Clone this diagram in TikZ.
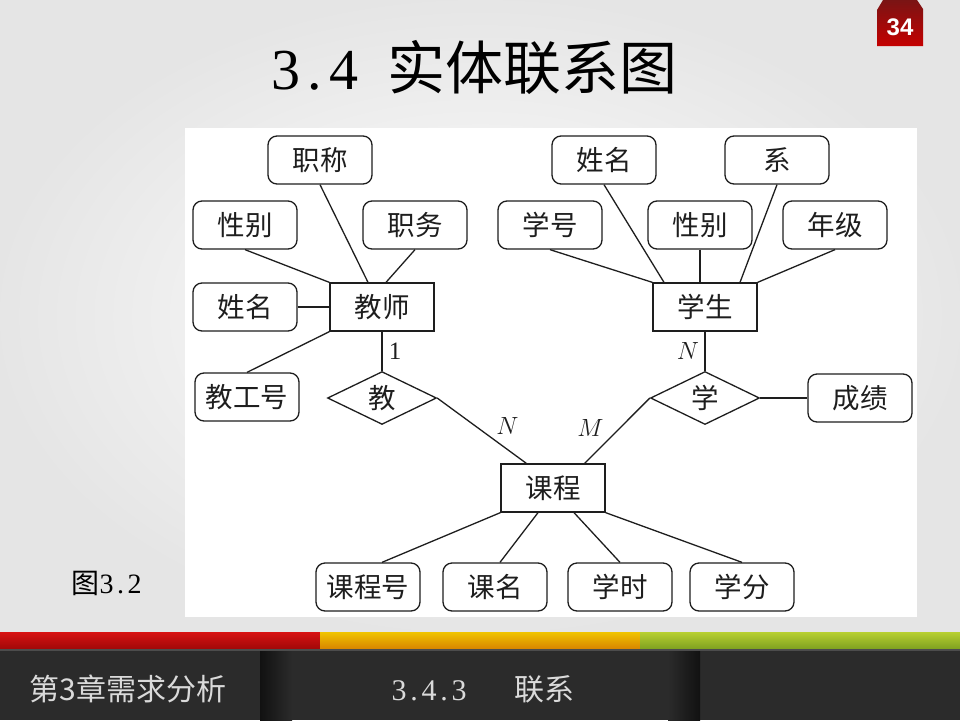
\documentclass[tikz,border=0pt]{standalone}
\usepackage{fontspec}
\setmainfont{Liberation Serif}
\newfontfamily\cjk{Noto Sans CJK SC}
\newfontfamily\sans{Liberation Sans}
\usetikzlibrary{shapes.geometric}

\definecolor{badgetop}{HTML}{7A1414}
\definecolor{badgebot}{HTML}{C40000}
\definecolor{barbg}{HTML}{2B2B2B}
\definecolor{footfg}{HTML}{DADADA}
\definecolor{inkcol}{HTML}{1E1E1E}
\definecolor{redtop}{HTML}{D81212}
\definecolor{redbot}{HTML}{A00808}
\definecolor{orgtop}{HTML}{F0C400}
\definecolor{orgbot}{HTML}{D88400}
\definecolor{grntop}{HTML}{B8D030}
\definecolor{grnbot}{HTML}{7EA020}

% half-width cell, as in the slide's song-style digits
\newcommand{\hw}[1]{\makebox[0.5em]{#1}}

\begin{document}
\begin{tikzpicture}[
    x=1pt, y=-1pt,
    attr/.style={draw=inkcol, line width=1.3pt, rounded corners=9pt, minimum width=104pt,
                 minimum height=48pt, inner sep=2pt, text centered, fill=white,
                 text=inkcol, font=\cjk\fontsize{27.5}{27.5}\selectfont},
    ent/.style={draw=inkcol, line width=1.3pt, minimum width=104pt, minimum height=48pt,
                inner sep=2pt, text centered, fill=white, text=inkcol,
                font=\cjk\fontsize{27.5}{27.5}\selectfont},
    rel/.style={draw=inkcol, line width=1.3pt, diamond, minimum width=109pt,
                minimum height=51pt, inner sep=0pt, fill=white, text=inkcol,
                font=\cjk\fontsize{27.5}{27.5}\selectfont},
    link/.style={draw=inkcol, line width=1.3pt},
    card/.style={text=inkcol, font=\fontsize{25}{25}\selectfont},
    foot/.style={text=footfg, anchor=west, font=\cjk\fontsize{30}{30}\selectfont}
]
\useasboundingbox (0,0) rectangle (960,720);

%--------
% SLIDE BACKGROUND
%--------
\shade[inner color=white, outer color=gray!20] (0,0) rectangle (960,632);
\fill[white] (185,128) rectangle (917,617);

% page badge
\shade[top color=badgetop, bottom color=badgebot]
    (877,10) -- (883,0) -- (917,0) -- (923,9) -- (923,46) -- (877,46) -- cycle;
\node[text=white, font=\sans\bfseries\fontsize{24}{24}\selectfont] (badge) at (900,27) {34};

% title
\node[text=black, font=\fontsize{58}{58}\selectfont, anchor=west] (title) at (268,67)
    {\hw{3}\hw{.}\hw{4}\hw{ }{\cjk 实体联系图}};

% caption
\node[text=black, font=\fontsize{28}{28}\selectfont, anchor=west] (caption) at (68,583)
    {{\cjk 图}\hw{3}\hw{.}\hw{2}};

%--------
% TEACHER (left)
%--------
\node[attr] (t_zc) at (320,160) {职称};
\node[attr] (t_xb) at (245,225) {性别};
\node[attr] (t_zw) at (415,225) {职务};
\node[attr] (t_xm) at (245,307) {姓名};
\node[ent]  (teacher) at (382,307) {教师};
\node[attr] (t_gh) at (247,397) {教工号};
\node[rel]  (teach) at (382,398) {教};

\draw[link] (t_zc.south) -- ([xshift=-14pt]teacher.north);
\draw[link] (t_xb.south) -- (teacher.north west);
\draw[link] (t_zw.south) -- ([xshift=4pt]teacher.north);
\draw[link] (t_xm.east) -- (teacher.west);
\draw[link] (t_gh.north) -- (teacher.south west);
\draw[link] (teacher.south) -- (teach.north)
    node[card, midway, right=3pt] {1};

%--------
% STUDENT (right)
%--------
\node[attr] (s_xm) at (604,160) {姓名};
\node[attr] (s_x)  at (777,160) {系};
\node[attr] (s_xh) at (550,225) {学号};
\node[attr] (s_xb) at (700,225) {性别};
\node[attr] (s_nj) at (835,225) {年级};
\node[ent]  (student) at (705,307) {学生};
\node[rel]  (study) at (705,398) {学};
\node[attr] (s_cj) at (860,398) {成绩};

\draw[link] (s_xh.south) -- (student.north west);
\draw[link] (s_xm.south) -- ([xshift=-41pt]student.north);
\draw[link] (s_xb.south) -- (s_xb.south |- student.north);
\draw[link] (s_x.south) -- ([xshift=35pt]student.north);
\draw[link] (s_nj.south) -- (student.north east);
\draw[link] (student.south) -- (study.north)
    node[card, midway, left=2pt] {$N$};
\draw[link] (study.east) -- (s_cj.west);

%--------
% COURSE (bottom)
%--------
\node[ent]  (course) at (553,488) {课程};
\node[attr] (c_kch) at (368,587) {课程号};
\node[attr] (c_km)  at (495,587) {课名};
\node[attr] (c_xs)  at (620,587) {学时};
\node[attr] (c_xf)  at (742,587) {学分};

\draw[link] (teach.east) -- ([xshift=26pt]course.north west)
    node[card, pos=0.62, above right] {$N$};
\draw[link] (study.west) -- ([xshift=-21pt]course.north east)
    node[card, pos=0.65, above left] {$M$};
\draw[link] ([xshift=14pt]c_kch.north) -- (course.south west);
\draw[link] ([xshift=5pt]c_km.north) -- ([xshift=-15pt]course.south);
\draw[link] (c_xs.north) -- ([xshift=21pt]course.south);
\draw[link] (c_xf.north) -- (course.south east);

%--------
% FOOTER BAR
%--------
\shade[top color=redtop, bottom color=redbot] (0,632) rectangle (320,649);
\shade[top color=orgtop, bottom color=orgbot] (320,632) rectangle (640,649);
\shade[top color=grntop, bottom color=grnbot] (640,632) rectangle (960,649);
\fill[barbg] (0,649) rectangle (960,720);
\fill[gray!60!black] (0,649) rectangle (960,651);
\shade[left color=black!60!barbg, right color=barbg] (260,651) rectangle (292,720);
\shade[left color=barbg, right color=black!60!barbg] (668,651) rectangle (700,720);

\node[foot] (chapter) at (26,689) {第3章需求分析};
\node[foot] (section) at (388,689)
    {{\rmfamily\hw{3}\hw{.}\hw{4}\hw{.}\hw{3}}\hspace{1.6em}联系};

\end{tikzpicture}
\end{document}
